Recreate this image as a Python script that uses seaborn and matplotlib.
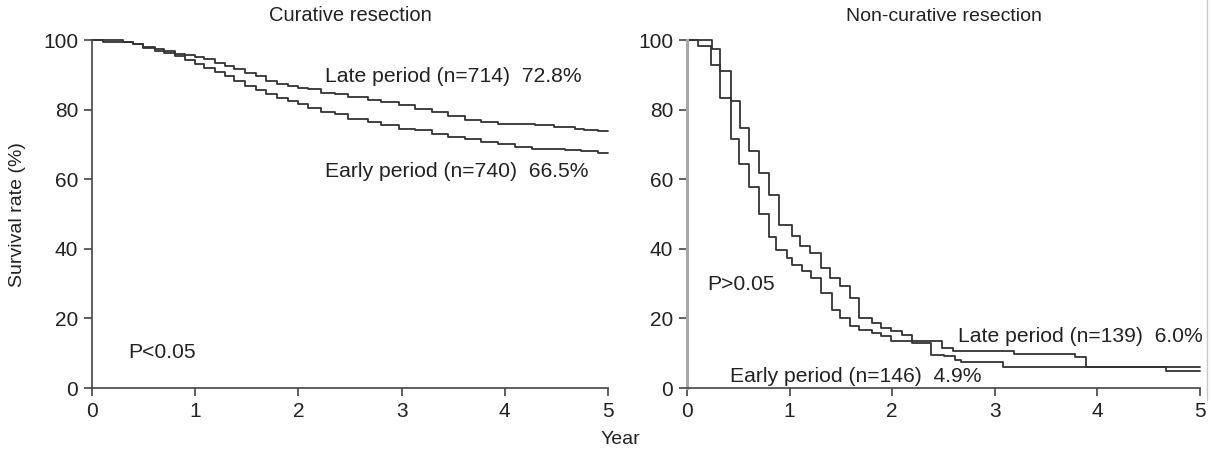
import numpy as np
import pandas as pd
import matplotlib
matplotlib.use('Agg')
import matplotlib.pyplot as plt
import seaborn as sns
from matplotlib.lines import Line2D

"""
Kaplan-Meier style survival curves, early vs late period,
curative and non-curative resection.
"""

# Curative resection: (year where the step starts, survival %)
cur_late_t = [0, 0.30, 0.40, 0.49, 0.61, 0.70, 0.80, 0.90, 1.00, 1.09, 1.19, 1.29, 1.38,
              1.48, 1.59, 1.69, 1.79, 1.90, 2.00, 2.09, 2.22, 2.35, 2.48, 2.67, 2.80, 2.97,
              3.13, 3.29, 3.45, 3.61, 3.77, 3.93, 4.16, 4.29, 4.48, 4.68, 4.77, 4.90]
cur_late_s = [100, 99.4, 98.8, 98.0, 97.3, 96.8, 96.1, 95.7, 95.0, 94.4, 93.5, 92.5, 91.6,
              90.6, 89.7, 88.2, 87.3, 86.8, 86.3, 85.8, 84.9, 84.4, 83.6, 82.9, 82.2, 81.2,
              80.3, 79.3, 78.1, 77.1, 76.4, 76.0, 75.8, 75.5, 75.0, 74.5, 74.0, 73.8]

cur_early_t = [0, 0.11, 0.40, 0.49, 0.61, 0.70, 0.80, 0.90, 1.00, 1.09, 1.19, 1.29, 1.38,
               1.48, 1.59, 1.69, 1.79, 1.90, 2.00, 2.09, 2.22, 2.35, 2.48, 2.67, 2.80, 2.97,
               3.13, 3.29, 3.45, 3.61, 3.77, 3.93, 4.10, 4.26, 4.42, 4.58, 4.74, 4.90]
cur_early_s = [100, 99.5, 98.9, 97.8, 96.8, 96.4, 95.4, 94.2, 93.0, 92.0, 90.8, 89.7, 88.2,
               86.8, 85.5, 84.6, 83.4, 82.5, 81.5, 80.6, 79.4, 78.6, 77.2, 76.4, 75.5, 74.5,
               74.0, 73.1, 72.1, 71.5, 70.7, 70.0, 69.3, 68.8, 68.6, 68.5, 68.0, 67.5]

# Non-curative resection
non_late_t = [0, 0.24, 0.32, 0.43, 0.52, 0.60, 0.70, 0.80, 0.90, 1.02, 1.10, 1.20, 1.31,
              1.39, 1.49, 1.59, 1.68, 1.80, 1.89, 1.99, 2.10, 2.19, 2.49, 2.59, 3.19, 3.78, 3.89]
non_late_s = [100, 97.4, 91.0, 82.5, 74.6, 68.0, 61.8, 55.6, 46.9, 43.6, 40.7, 38.8, 34.5,
              31.6, 29.2, 25.9, 20.1, 18.7, 17.2, 16.3, 15.3, 13.4, 11.5, 10.6, 9.9, 8.8, 6.0]

non_early_t = [0, 0.11, 0.23, 0.32, 0.43, 0.51, 0.60, 0.70, 0.80, 0.87, 0.97, 1.02, 1.12,
               1.21, 1.31, 1.41, 1.49, 1.59, 1.68, 1.80, 1.89, 1.99, 2.19, 2.38, 2.50, 2.61,
               2.67, 3.08, 4.67]
non_early_s = [100, 98.2, 92.8, 83.4, 71.5, 64.4, 57.7, 50.1, 43.5, 39.7, 37.4, 35.4, 33.5,
               31.6, 27.3, 22.5, 20.1, 17.7, 16.8, 15.8, 14.8, 13.4, 12.9, 9.6, 9.1, 8.1,
               7.5, 6.0, 4.9]

periods = ['Late', 'Early']
x_ticks = [0, 1, 2, 3, 4, 5]
y_ticks = [0, 20, 40, 60, 80, 100]


def curve_df(t_late, s_late, t_early, s_early, end=5):
    # add the end point so the last step runs to the end of follow-up
    rows = []
    for name, t, s in [('Late', t_late, s_late), ('Early', t_early, s_early)]:
        tt = list(t) + [end]
        ss = list(s) + [s[-1]]
        rows.append(pd.DataFrame({'year': tt, 'survival': ss, 'period': name}))
    return pd.concat(rows, ignore_index=True)


df_cur = curve_df(cur_late_t, cur_late_s, cur_early_t, cur_early_s)
df_non = curve_df(non_late_t, non_late_s, non_early_t, non_early_s)

sns.set_style('ticks')
plt.rcParams['font.family'] = ['Liberation Sans', 'DejaVu Sans']

fig = plt.figure(figsize=(12.1, 4.58), dpi=100)
ax1 = fig.add_axes([92 / 1210, 70 / 458, 516 / 1210, 348 / 458])
ax2 = fig.add_axes([687 / 1210, 70 / 458, 513 / 1210, 348 / 458])

line_col = '#333333'
pal = {p: line_col for p in periods}

for ax, d, title, tsize in [(ax1, df_cur, 'Curative resection', 14.5),
                            (ax2, df_non, 'Non-curative resection', 14)]:
    sns.lineplot(data=d, x='year', y='survival', hue='period', palette=pal,
                 estimator=None, sort=False, drawstyle='steps-post',
                 legend=False, linewidth=1.3, ax=ax)
    for ln in ax.lines:
        ln.set_clip_on(False)
    ax.set_xlim(0, 5)
    ax.set_ylim(0, 100)
    ax.set_xticks(x_ticks)
    ax.set_yticks(y_ticks)
    ax.set_xlabel('')
    ax.set_ylabel('')
    ax.set_title(title, fontsize=tsize, color='#222222', pad=14)
    for side in ['top', 'right']:
        ax.spines[side].set_visible(False)
    for side in ['left', 'bottom']:
        ax.spines[side].set_color('#444444')
        ax.spines[side].set_linewidth(1.2)
    ax.tick_params(direction='out', length=6, width=1.2, color='#444444',
                   labelsize=15, labelcolor='#222222', pad=4)

ax2.spines['left'].set_color('#a8a8a8')
ax2.spines['left'].set_linewidth(2.2)

txt = dict(fontsize=15.2, color='#222222', va='center', ha='left')
ax1.text(2.26, 89.4, 'Late period (n=714)  72.8%', **txt)
ax1.text(2.26, 62.1, 'Early period (n=740)  66.5%', **txt)
ax1.text(0.35, 10.1, 'P<0.05', **txt)

ax2.text(0.20, 29.6, 'P>0.05', **txt)
ax2.text(2.64, 14.7, 'Late period (n=139)  6.0%', **txt)
ax2.text(0.42, 3.2, 'Early period (n=146)  4.9%', **txt)

fig.text(18 / 1210, 1 - 215 / 458, 'Survival rate (%)', rotation=90,
         fontsize=14, color='#222222', ha='center', va='center')
fig.text(620 / 1210, 1 - 440 / 458, 'Year', fontsize=14, color='#222222',
         ha='center', va='center')

# faint frame edge on the right of the original scan
fig.add_artist(Line2D([1207 / 1210, 1207 / 1210], [1 - 400 / 458, 1],
                      transform=fig.transFigure, color='#c8c8c8', linewidth=1))

fig.savefig('out.png', dpi=100, facecolor='white')
